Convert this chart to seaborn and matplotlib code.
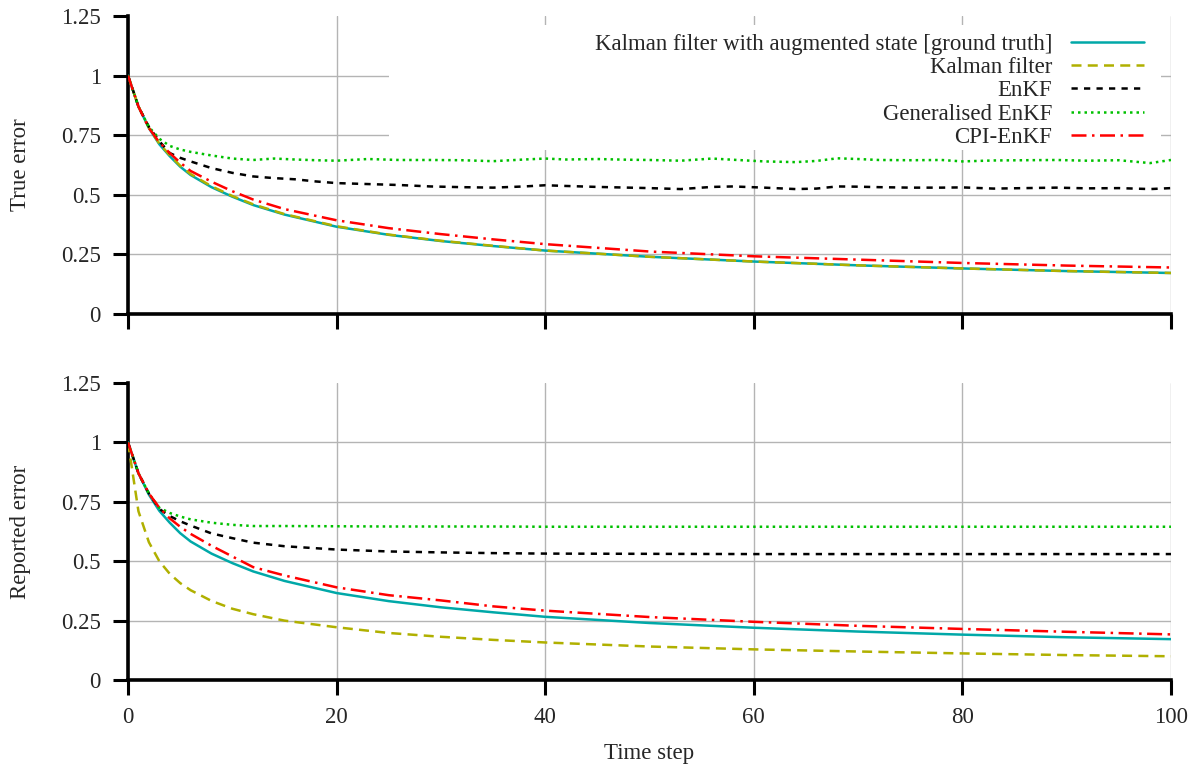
import matplotlib
matplotlib.use("Agg")
import matplotlib.pyplot as plt
import matplotlib.patches as mpatches
import seaborn as sns
import pandas as pd
import numpy as np

# ---------------- data ----------------
t_smooth = [0, 1, 2, 3, 4, 5, 6, 8, 10, 12, 15, 20, 25, 30, 35, 40, 50, 60, 70, 80, 90, 100]
t_wiggle = [0, 1, 2, 3, 4, 5, 6, 8, 10, 12, 14, 16, 18, 20, 23, 26, 29, 32, 35, 38, 40, 42, 45,
            48, 50, 53, 56, 58, 61, 64, 66, 68, 70, 72, 75, 78, 80, 83, 86, 89, 92, 95, 98, 100]

# Kalman filter with augmented state [ground truth] (same in both panels)
kf_aug = [1.0, 0.87, 0.78, 0.712, 0.662, 0.618, 0.583, 0.532, 0.492, 0.457, 0.417, 0.366,
          0.332, 0.306, 0.285, 0.266, 0.240, 0.220, 0.204, 0.191, 0.180, 0.172]

# True error panel
true_kf = [1.0, 0.87, 0.781, 0.715, 0.666, 0.622, 0.587, 0.536, 0.495, 0.460, 0.419, 0.368,
           0.333, 0.307, 0.286, 0.266, 0.240, 0.220, 0.204, 0.191, 0.180, 0.172]
true_enkf = [1.0, 0.87, 0.785, 0.725, 0.675, 0.655, 0.64, 0.612, 0.592, 0.577, 0.570, 0.565, 0.556,
             0.549, 0.545, 0.541, 0.535, 0.532, 0.530, 0.535, 0.540, 0.537, 0.533, 0.530, 0.528,
             0.524, 0.533, 0.535, 0.530, 0.524, 0.526, 0.535, 0.534, 0.532, 0.530, 0.530, 0.531,
             0.526, 0.528, 0.530, 0.527, 0.528, 0.524, 0.528]
true_genkf = [1.0, 0.87, 0.785, 0.735, 0.705, 0.69, 0.68, 0.665, 0.652, 0.646, 0.652, 0.648, 0.645,
              0.643, 0.650, 0.646, 0.646, 0.645, 0.641, 0.648, 0.652, 0.648, 0.650, 0.647, 0.646,
              0.643, 0.652, 0.647, 0.640, 0.637, 0.642, 0.653, 0.650, 0.646, 0.645, 0.646, 0.640,
              0.644, 0.645, 0.646, 0.643, 0.645, 0.633, 0.646]
true_cpi = [1.0, 0.87, 0.78, 0.72, 0.675, 0.635, 0.60, 0.555, 0.515, 0.48, 0.44, 0.393,
            0.36, 0.335, 0.313, 0.293, 0.262, 0.242, 0.228, 0.214, 0.203, 0.195]

# Reported error panel
rep_kf = [1.0, 0.71, 0.58, 0.50, 0.447, 0.408, 0.378, 0.333, 0.30, 0.277, 0.25, 0.222,
          0.198, 0.182, 0.169, 0.158, 0.141, 0.129, 0.12, 0.112, 0.105, 0.10]
rep_enkf = [1.0, 0.87, 0.785, 0.72, 0.69, 0.668, 0.65, 0.617, 0.597, 0.578, 0.563, 0.549,
            0.541, 0.537, 0.534, 0.532, 0.531, 0.530, 0.530, 0.530, 0.530, 0.530]
rep_genkf = [1.0, 0.87, 0.785, 0.725, 0.703, 0.688, 0.676, 0.662, 0.653, 0.648, 0.648, 0.647,
             0.646, 0.646, 0.646, 0.645, 0.645, 0.645, 0.645, 0.645, 0.645, 0.645]
rep_cpi = [1.0, 0.87, 0.785, 0.725, 0.68, 0.645, 0.615, 0.565, 0.52, 0.475, 0.44, 0.39,
           0.357, 0.335, 0.31, 0.292, 0.265, 0.245, 0.228, 0.215, 0.203, 0.192]

labels = ["Kalman filter with augmented state [ground truth]", "Kalman filter", "EnKF",
          "Generalised EnKF", "CPI-EnKF"]
y_ticks = [0, 0.25, 0.5, 0.75, 1, 1.25]
y_tick_labels = ["0", "0.25", "0.5", "0.75", "1", "1.25"]
x_ticks = [0, 20, 40, 60, 80, 100]

# ---------------- style ----------------
sns.set_theme(style="whitegrid")
plt.rcParams["font.family"] = ["Liberation Serif", "DejaVu Serif"]
plt.rcParams["mathtext.fontset"] = "stix"
FS = 16.5

colors = ["#00a8a8", "#b0b000", "#000000", "#00c000", "#ff0000"]
lw = 1.8
styles = ["-", (0, (4, 2.5)), (0, (2.5, 2.5)), (0, (1, 1.6)), (0, (6, 2.2, 1, 2.2))]

fig = plt.figure(figsize=(12.01, 7.69), dpi=100)
ax1 = fig.add_axes([0.1066, 0.5917, 0.8684, 0.3875])
ax2 = fig.add_axes([0.1066, 0.1157, 0.8684, 0.3863])


def series_df(t, v):
    return pd.DataFrame({"t": t, "v": v})


panels = [
    (ax1, [(t_smooth, kf_aug), (t_smooth, true_kf), (t_wiggle, true_enkf),
           (t_wiggle, true_genkf), (t_smooth, true_cpi)], "True error"),
    (ax2, [(t_smooth, kf_aug), (t_smooth, rep_kf), (t_smooth, rep_enkf),
           (t_smooth, rep_genkf), (t_smooth, rep_cpi)], "Reported error"),
]

for ax, series, ylabel in panels:
    for i, (t, v) in enumerate(series):
        sns.lineplot(data=series_df(t, v), x="t", y="v", ax=ax, color=colors[i],
                     linestyle=styles[i], linewidth=lw, label=labels[i],
                     legend=False, zorder=3 + (0 if i == 0 else 1))
    ax.set_xlim(0, 100)
    ax.set_ylim(0, 1.25)
    ax.set_xticks(x_ticks)
    ax.set_yticks(y_ticks)
    ax.set_yticklabels(y_tick_labels)
    ax.set_ylabel(ylabel, fontsize=FS, labelpad=22)
    ax.set_xlabel("")
    ax.grid(True, color="#b4b4b4", linewidth=1.0)
    ax.set_axisbelow(True)
    ax.yaxis.get_major_ticks()[-1].gridline.set_visible(False)
    for s in ["top", "right"]:
        ax.spines[s].set_visible(False)
    for s in ["left", "bottom"]:
        ax.spines[s].set_color("black")
        ax.spines[s].set_linewidth(2.6)
    ax.tick_params(axis="both", direction="out", length=10.5, width=2.2, color="black",
                   labelsize=FS, pad=9, left=True, bottom=True)
    ax.set_facecolor("white")

ax1.tick_params(axis="x", labelbottom=False)
ax2.set_xlabel("Time step", fontsize=FS, labelpad=11)

# opaque key area in the top panel (covers the grid like the original key box)
ax1.add_patch(mpatches.Rectangle((0.25, 0.55), 0.74, 0.42, transform=ax1.transAxes,
                                 facecolor="white", edgecolor="none", zorder=1))
handles, lbls = ax1.get_legend_handles_labels()
leg = ax1.legend(handles, lbls, loc="upper right", bbox_to_anchor=(0.983, 0.972),
                 frameon=False, markerfirst=False, fontsize=FS, handlelength=3.2,
                 handletextpad=0.8, labelspacing=0.1, borderaxespad=0.0)

fig.savefig("out.png", dpi=100, facecolor="white")
